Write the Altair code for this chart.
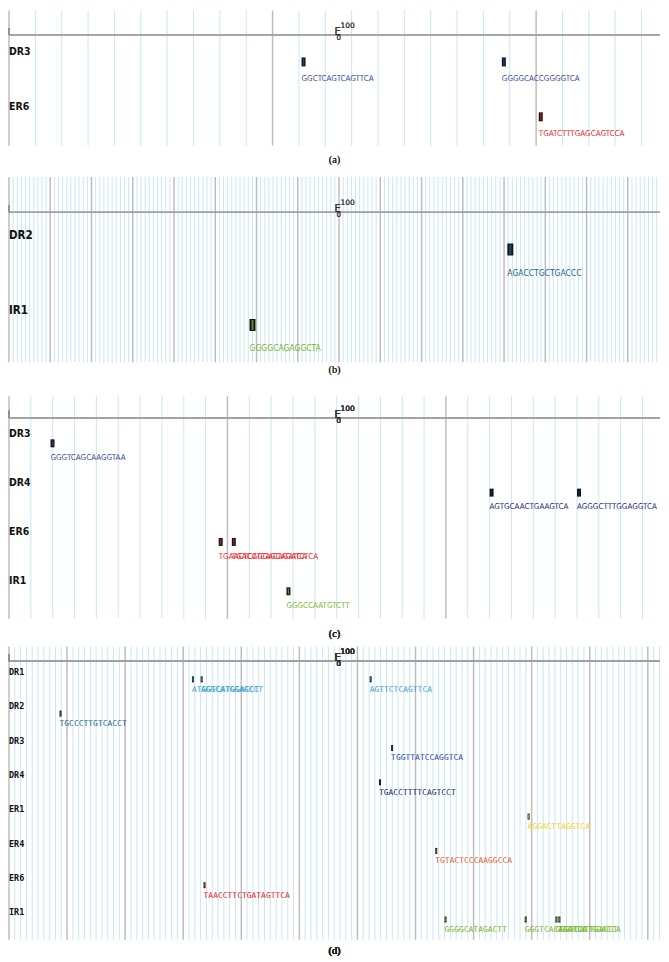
import altair as alt
import pandas as pd

W = 653            # plot width (page is 669 wide with 8px margins)
K = 946 / 962      # vertical fit factor so the page does not overflow

# ---------------- data ----------------
row_names = ["DR1", "DR2", "DR3", "DR4", "ER1", "ER4", "ER6", "IR1"]
row_colors = ["#3ea2cf", "#1d6590", "#34449a", "#1b2668", "#f0d41e", "#f05a28", "#e8201c", "#78b42a"]

# panel (a)
a_len = 247
a_rows = ["DR3", "ER6"]
a_site_rows = ["DR3", "DR3", "ER6"]
a_site_pos = [111, 187, 201]
a_site_seq = ["GGCTCAGTCAGTTCA", "GGGGCACCGGGGTCA", "TGATCTTTGAGCAGTCCA"]

# panel (b)
b_len = 1578
b_rows = ["DR2", "IR1"]
b_site_rows = ["DR2", "IR1"]
b_site_pos = [1208, 583]
b_site_seq = ["AGACCTGCTGACCC", "GGGGCAGAGGCTA"]

# panel (c)
c_len = 298
c_rows = ["DR3", "DR4", "ER6", "IR1"]
c_site_rows = ["DR3", "DR4", "DR4", "ER6", "ER6", "IR1"]
c_site_pos = [19, 220, 260, 96, 102, 127]
c_site_seq = ["GGGTCAGCAAGGTAA", "AGTGCAACTGAAGTCA", "AGGGCTTTGGAGGTCA",
              "TGAACTCAGGACAGATCA", "TGACCTCAGCAGATCTCA", "GGGCCAATGTCTT"]

# panel (d)
d_len = 1121
d_rows = ["DR1", "DR2", "DR3", "DR4", "ER1", "ER4", "ER6", "IR1"]
d_site_rows = ["DR1", "DR1", "DR1", "DR2", "DR3", "DR4", "ER1", "ER4", "ER6",
               "IR1", "IR1", "IR1", "IR1"]
d_site_pos = [315, 330, 621, 87, 658, 637, 893, 734, 335, 750, 888, 941, 946]
d_site_seq = ["ATGGTCATGGACCT", "AGGCATGGAGCCT", "AGTTCTCAGTTCA", "TGCCCTTGTCACCT",
              "TGGTTATCCAGGTCA", "TGACCTTTTCAGTCCT", "AGGACTTAGGTCA", "TGTACTCCCAAGGCCA",
              "TAACCTTCTGATAGTTCA", "GGGGCATAGACTT", "GGGTCACTGACCC", "GGGTCATTGACCT",
              "AGGTCATGGACCA"]

NARROW = "Liberation Sans Narrow, DejaVu Sans Condensed, sans-serif"
MONO = "DejaVu Sans Mono, monospace"


def panel(caption, length, rows, site_rows, site_pos, site_seq, H, axis_px, r0, step,
          box_dy, text_dy, grid_bottom, caption_px, box_w, box_h,
          seq_font, seq_size, lab_font, lab_size):
    H, axis_px, r0, step = H * K, axis_px * K, r0 * K, step * K
    box_dy, text_dy, grid_bottom, caption_px = box_dy * K, text_dy * K, grid_bottom * K, caption_px * K

    def ti(p):
        return (p - r0) / step

    xs = alt.Scale(domain=[0, length], nice=False, zero=False)
    ys = alt.Scale(domain=[ti(0), ti(H)], reverse=True, nice=False, zero=False)
    color = alt.Color("row:N", scale=alt.Scale(domain=row_names, range=row_colors), legend=None)

    idx = {r: i for i, r in enumerate(rows)}
    rows_df = pd.DataFrame({"row": rows, "i": [idx[r] for r in rows]})
    sites_df = pd.DataFrame({"row": site_rows, "pos": site_pos, "seq": site_seq,
                             "i": [idx[r] for r in site_rows]})
    minor = [v for v in range(10, length + 1, 10) if v % 100]
    major = list(range(0, length + 1, 100))
    minor_df = pd.DataFrame({"v": minor})
    major_df = pd.DataFrame({"v": major})

    y_top = alt.YDatum(ti(0), scale=ys, axis=None)
    y_bot = alt.Y2Datum(ti(grid_bottom))

    g_minor = alt.Chart(minor_df).mark_rule(color="#c9e7f4", strokeWidth=1).encode(
        x=alt.X("v:Q", scale=xs, axis=None), y=y_top, y2=y_bot)
    g_major = alt.Chart(major_df).mark_rule(color="#bdbdbd", strokeWidth=1.5).encode(
        x=alt.X("v:Q", scale=xs, axis=None), y=y_top, y2=y_bot)

    base = alt.Chart(rows_df)
    axis_line = base.mark_rule(color="#a0a0a0", strokeWidth=1.5).encode(
        x=alt.XDatum(0, scale=xs, axis=None), x2=alt.X2Datum(length),
        y=alt.YDatum(ti(axis_px), scale=ys, axis=None))
    left_tick = base.mark_rule(color="#909090", strokeWidth=1.5).encode(
        x=alt.XDatum(0, scale=xs, axis=None),
        y=alt.YDatum(ti(axis_px - 7), scale=ys, axis=None), y2=alt.Y2Datum(ti(axis_px)))
    e_main = base.mark_text(text="E", fontSize=10, font="DejaVu Sans", color="#333",
                            align="left", baseline="middle", dy=-3).encode(
        x=alt.XDatum(length / 2, scale=xs, axis=None),
        y=alt.YDatum(ti(axis_px), scale=ys, axis=None))
    e_sup = base.mark_text(text="100", fontSize=7.5, font="DejaVu Sans", color="#333",
                           align="left", baseline="middle", dx=6, dy=-9).encode(
        x=alt.XDatum(length / 2, scale=xs, axis=None),
        y=alt.YDatum(ti(axis_px), scale=ys, axis=None))
    e_sub = base.mark_text(text="0", fontSize=7, font="DejaVu Sans", color="#333",
                           align="left", baseline="middle", dx=2, dy=3).encode(
        x=alt.XDatum(length / 2, scale=xs, axis=None),
        y=alt.YDatum(ti(axis_px), scale=ys, axis=None))

    labels = base.mark_text(align="left", baseline="middle", fontWeight="bold",
                            font=lab_font, fontSize=lab_size, color="#111").encode(
        x=alt.XDatum(0, scale=xs, axis=None),
        y=alt.Y("i:Q", scale=ys, axis=None),
        text="row:N")

    s = alt.Chart(sites_df)
    box = s.mark_tick(orient="vertical", color="#141414", thickness=box_w, size=box_h,
                      yOffset=box_dy, xOffset=box_w / 2, opacity=1).encode(
        x=alt.X("pos:Q", scale=xs, axis=None), y=alt.Y("i:Q", scale=ys, axis=None))
    stripe = s.mark_tick(orient="vertical", thickness=max(1, box_w / 3), size=box_h - 2,
                         yOffset=box_dy, xOffset=box_w / 2, opacity=0.75).encode(
        x=alt.X("pos:Q", scale=xs, axis=None), y=alt.Y("i:Q", scale=ys, axis=None),
        color=color)
    seqs = s.mark_text(align="left", baseline="middle", font=seq_font, fontSize=seq_size,
                       dy=text_dy).encode(
        x=alt.X("pos:Q", scale=xs, axis=None), y=alt.Y("i:Q", scale=ys, axis=None),
        text="seq:N", color=color)

    cap = base.mark_text(text=caption, font="Liberation Serif, DejaVu Serif, serif",
                         fontSize=10.5, color="#222", align="center", baseline="middle").encode(
        x=alt.XDatum(length / 2, scale=xs, axis=None),
        y=alt.YDatum(ti(caption_px), scale=ys, axis=None))

    return alt.layer(g_minor, g_major, axis_line, left_tick, e_main, e_sup, e_sub,
                     labels, box, stripe, seqs, cap).properties(width=W, height=H)


pa = panel("(a)", a_len, a_rows, a_site_rows, a_site_pos, a_site_seq,
           H=168, axis_px=25, r0=42, step=56, box_dy=10.5, text_dy=28,
           grid_bottom=138, caption_px=153, box_w=4, box_h=9,
           seq_font=NARROW, seq_size=8, lab_font=NARROW, lab_size=10.5)
pb = panel("(b)", b_len, b_rows, b_site_rows, b_site_pos, b_site_seq,
           H=222, axis_px=36, r0=60, step=77, box_dy=14, text_dy=38,
           grid_bottom=189, caption_px=197, box_w=6, box_h=12,
           seq_font=NARROW, seq_size=8.5, lab_font=NARROW, lab_size=11.5)
pc = panel("(c)", c_len, c_rows, c_site_rows, c_site_pos, c_site_seq,
           H=254, axis_px=22, r0=38, step=50.3, box_dy=10, text_dy=25,
           grid_bottom=227, caption_px=242, box_w=4, box_h=8,
           seq_font=NARROW, seq_size=8, lab_font=NARROW, lab_size=10.5)
pd_ = panel("(d)", d_len, d_rows, d_site_rows, d_site_pos, d_site_seq,
            H=318, axis_px=15, r0=26, step=35, box_dy=7.5, text_dy=18,
            grid_bottom=299, caption_px=311, box_w=2, box_h=6,
            seq_font=MONO, seq_size=8, lab_font=MONO, lab_size=8.5)

chart = alt.vconcat(pa, pb, pc, pd_, spacing=0).resolve_scale(
    x="independent", y="independent").configure_view(stroke=None).properties(
    padding=0, background="white")

chart.save("out.html", embed_options={"renderer": "svg", "actions": False})
